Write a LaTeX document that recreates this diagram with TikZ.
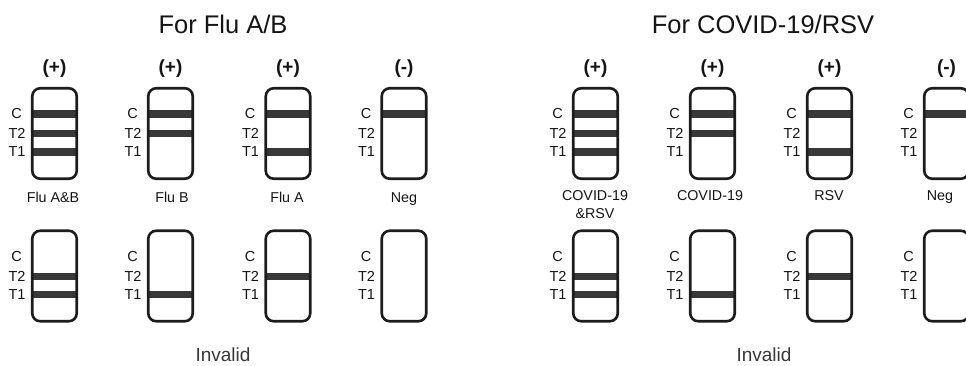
\documentclass[tikz,border=0pt]{standalone}
\usepackage{fontspec}
\setmainfont{Liberation Sans}
\definecolor{stripcol}{HTML}{1C1C1C}
\definecolor{bandcol}{HTML}{383838}
\definecolor{txt}{HTML}{151515}
\newcommand\mystrip[3]{%
  \node[stripbox] (#1) at (#2,#3+46.5) {};
  \node[lbl] (#1c) at (#2-38,#3+27) {C};
  \node[lbl] (#1tb) at (#2-37.5,#3+46.7) {T2};
  \node[lbl] (#1ta) at (#2-37.5,#3+65) {T1};
}
\newcommand\myband[3]{%
  \fill[bandcol] (#1-22,#2+#3-3.7) rectangle (#1+22,#2+#3+3.7);
}
\begin{document}
\begin{tikzpicture}[x=1pt,y=-1pt,
  stripbox/.style={draw=stripcol, line width=2.6pt, rounded corners=8pt,
    minimum width=44.5pt, minimum height=90.5pt, inner sep=0pt, outer sep=0pt},
  lbl/.style={font=\fontsize{14.5}{17.5}\selectfont, text=txt, inner sep=0pt},
  res/.style={font=\fontsize{14.3}{17.5}\selectfont, text=txt, inner sep=0pt, anchor=base, align=center},
  sign/.style={font=\fontsize{19}{22}\selectfont\bfseries, text=txt, inner sep=0pt, anchor=base},
  ttl/.style={font=\fontsize{25.5}{30}\selectfont, text=txt, inner sep=0pt, anchor=base},
  inv/.style={font=\fontsize{19}{22}\selectfont, text=txt!85!white, inner sep=0pt, anchor=base}]
\clip (0,0) rectangle (966,365);
\fill[white] (0,0) rectangle (966,365);
% titles
\node[ttl] (t1) at (223,33) {For Flu A/B};
\node[ttl] (t2) at (763,33) {For COVID-19/RSV};
% signs
\node[sign] (p1) at (54.5,73.5) {(+)};
\node[sign] (p2) at (170.5,73.5) {(+)};
\node[sign] (p3) at (288,73.5) {(+)};
\node[sign] (p4) at (404,73.5) {(-)};
\node[sign] (q1) at (595.5,73.5) {(+)};
\node[sign] (q2) at (712.5,73.5) {(+)};
\node[sign] (q3) at (829.5,73.5) {(+)};
\node[sign] (q4) at (946.5,73.5) {(-)};
% bands top row, left
\myband{54.5}{87}{27}\myband{54.5}{87}{46.7}\myband{54.5}{87}{65}
\myband{170.5}{87}{27}\myband{170.5}{87}{46.7}
\myband{288}{87}{27}\myband{288}{87}{65}
\myband{404}{87}{27}
% bands top row, right
\myband{595.5}{87}{27}\myband{595.5}{87}{46.7}\myband{595.5}{87}{65}
\myband{712.5}{87}{27}\myband{712.5}{87}{46.7}
\myband{829.5}{87}{27}\myband{829.5}{87}{65}
\myband{946.5}{87}{27}
% bands bottom row
\myband{54.5}{229.5}{46.7}\myband{54.5}{229.5}{65}
\myband{170.5}{229.5}{65}
\myband{288}{229.5}{46.7}
\myband{595.5}{229.5}{46.7}\myband{595.5}{229.5}{65}
\myband{712.5}{229.5}{65}
\myband{829.5}{229.5}{46.7}
% strips
\mystrip{a1}{54.5}{87}\mystrip{a2}{170.5}{87}\mystrip{a3}{288}{87}\mystrip{a4}{404}{87}
\mystrip{b1}{595.5}{87}\mystrip{b2}{712.5}{87}\mystrip{b3}{829.5}{87}\mystrip{b4}{946.5}{87}
\mystrip{c1}{54.5}{229.5}\mystrip{c2}{170.5}{229.5}\mystrip{c3}{288}{229.5}\mystrip{c4}{404}{229.5}
\mystrip{d1}{595.5}{229.5}\mystrip{d2}{712.5}{229.5}\mystrip{d3}{829.5}{229.5}\mystrip{d4}{946.5}{229.5}
% result labels
\node[res] (r1) at (53,202.5) {Flu A\&B};
\node[res] (r2) at (172,202.5) {Flu B};
\node[res] (r3) at (287,202.5) {Flu A};
\node[res] (r4) at (404,202.5) {Neg};
\node[res] (s1) at (595,218) {COVID-19\\\&RSV};
\node[res] (s2) at (710,200.5) {COVID-19};
\node[res] (s3) at (829,200.5) {RSV};
\node[res] (s4) at (940,200.5) {Neg};
% invalid
\node[inv] (i1) at (223,361) {Invalid};
\node[inv] (i2) at (764,361) {Invalid};
\end{tikzpicture}
\end{document}
